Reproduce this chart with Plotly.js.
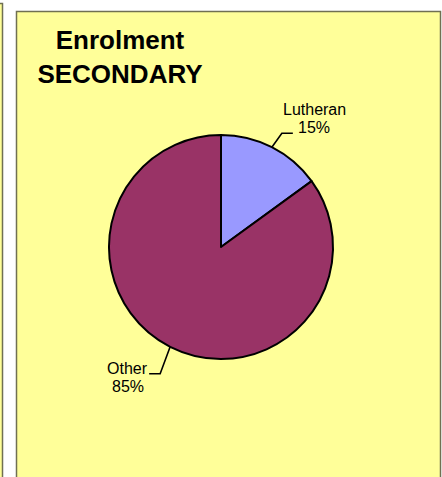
<!DOCTYPE html>
<html><head><meta charset="utf-8">
<script src="https://cdn.plot.ly/plotly-3.0.1.min.js"></script>
<style>html,body{margin:0;padding:0;background:#fff;overflow:hidden}#chart{width:442px;height:477px;}</style>
</head><body><div id="chart"></div>
<script>
// ---- data ----
const categories = ["Lutheran", "Other"];
const values = [15, 85];
const sliceColors = ["#9999ff", "#993366"];
const titleLines = ["Enrolment", "SECONDARY"];

// ---- layout constants (styling) ----
const W = 442, H = 477;
const cx = 221, cy = 247, R = 112;
const FONT = "Liberation Sans, Arial, Helvetica, sans-serif";
const panelFill = "#ffff99", panelLine = "#707052";
const legDx = 10, legUp = 14, legDown = 27, tailLen = 11;
function px(x){ return x / W; }
function py(y){ return 1 - y / H; }

const shapes = [
  {type:'rect', xref:'paper', yref:'paper', layer:'below',
   x0:px(16.5), x1:px(440.5), y0:py(490), y1:py(11.5),
   fillcolor:panelFill, line:{color:panelLine, width:1.5}},
  {type:'rect', xref:'paper', yref:'paper', layer:'below',
   x0:px(-10), x1:px(2.5), y0:py(490), y1:py(3.5),
   fillcolor:panelFill, line:{color:panelLine, width:1.5}}
];
const annotations = [];

const total = values.reduce((a,b)=>a+b,0);
let cum = 0;
values.forEach((v,i)=>{
  const mid = (cum + v/2) / total * 2 * Math.PI; cum += v;
  const ux = Math.sin(mid), uy = -Math.cos(mid);
  const sx = ux >= 0 ? 1 : -1;
  const above = uy < 0;
  const P = [cx + R*ux, cy + R*uy];
  const Q = [P[0] + sx*legDx, P[1] + (above ? -legUp : legDown)];
  const E = [Q[0] + sx*tailLen, Q[1]];
  shapes.push({type:'path', xref:'paper', yref:'paper', layer:'above',
    path:`M${px(P[0])},${py(P[1])} L${px(Q[0])},${py(Q[1])} L${px(E[0])},${py(E[1])}`,
    line:{color:'#000000', width:1.6}});
  const pct = Math.round(v/total*100) + '%';
  const lines = [categories[i], pct];
  const tx = E[0] + sx*21.5;
  const b1 = above ? E[1] - 18.5 : E[1];
  [b1, b1 + 18.4].forEach((b,k)=>{
    annotations.push({xref:'paper', yref:'paper', x:px(tx), y:py(b - 5.5),
      xanchor:'center', yanchor:'middle', showarrow:false, borderpad:0,
      text:lines[k], font:{family:FONT, size:16, color:'#000000'}});
  });
});

const data = [{
  type:'pie', labels:categories, values:values, sort:false,
  direction:'clockwise', rotation:0, textinfo:'none', hoverinfo:'label+percent',
  marker:{colors:sliceColors, line:{color:'#000000', width:2}},
  domain:{x:[px(cx-R), px(cx+R)], y:[py(cy+R), py(cy-R)]},
  showlegend:false
}];

const layout = {
  width:W, height:H, margin:{l:0,r:0,t:0,b:0},
  paper_bgcolor:'#ffffff', plot_bgcolor:'rgba(0,0,0,0)',
  showlegend:false,
  title:{text:titleLines.join('<br>'), x:px(120), xanchor:'center', xref:'paper',
    y:py(49), yref:'paper', yanchor:'top',
    font:{family:FONT, size:26, color:'#000000', weight:'bold'}},
  shapes:shapes, annotations:annotations
};
Plotly.newPlot('chart', data, layout, {displayModeBar:false, staticPlot:true});
</script>
</body></html>
